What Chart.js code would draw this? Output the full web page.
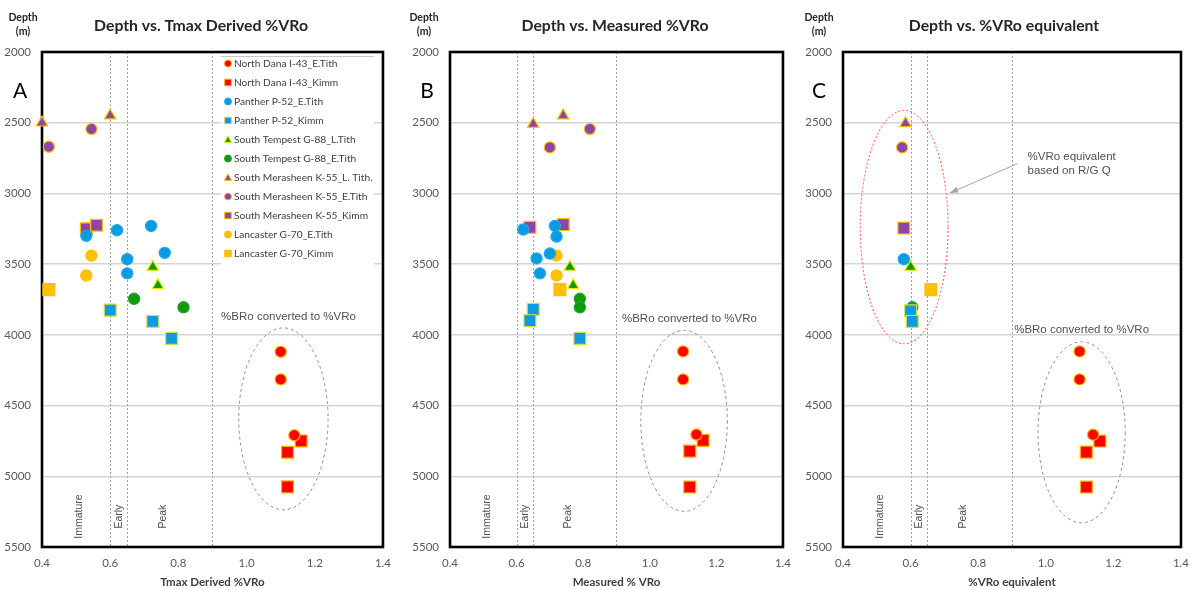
<!DOCTYPE html>
<html>
<head>
<meta charset="utf-8">
<script src="https://cdn.jsdelivr.net/npm/chart.js@4.4.0/dist/chart.umd.min.js"></script>
<style>
  body { margin: 0; background: #fff; }
  #wrap { position: relative; width: 1198px; height: 590px; }
  canvas { position: absolute; top: 0; }
</style>
</head>
<body>
<div id="wrap">
  <canvas id="chartA" width="400" height="590" style="left:0"></canvas>
  <canvas id="chartB" width="400" height="590" style="left:400px"></canvas>
  <canvas id="chartC" width="398" height="590" style="left:800px"></canvas>
</div>
<script>
// Series (well + interval)
const seriesNames = [
  'North Dana I-43_E.Tith', 'North Dana I-43_Kimm',
  'Panther P-52_E.Tith', 'Panther P-52_Kimm',
  'South Tempest G-88_L.Tith', 'South Tempest G-88_E.Tith',
  'South Merasheen K-55_L. Tith.', 'South Merasheen K-55_E.Tith', 'South Merasheen K-55_Kimm',
  'Lancaster G-70_E.Tith', 'Lancaster G-70_Kimm'
];
const seriesShape = ['circle', 'rect', 'circle', 'rect', 'triangle', 'circle', 'triangle', 'circle', 'rect', 'circle', 'rect'];
const seriesFill = ['#ff0000', '#ff0000', '#0a9be0', '#0a9be0', '#109a10', '#109a10', '#8e44ad', '#8e44ad', '#8e44ad', '#ffc000', '#ffc000'];
const seriesEdge = ['#ffb000', '#ffb000', '#22a8e8', '#d8dc40', '#f0e800', '#2aa02a', '#ffc000', '#ffc000', '#ffc000', '#ffc000', '#ffc000'];

// A: Tmax derived %VRo
const tmaxVRo = [
  [1.10, 1.10, 1.14], [1.16, 1.12, 1.12],
  [0.53, 0.62, 0.72, 0.76, 0.65, 0.65], [0.60, 0.725, 0.78],
  [0.725, 0.74], [0.67, 0.815],
  [0.40, 0.60], [0.545, 0.42], [0.53, 0.56],
  [0.545, 0.53], [0.42]
];
const tmaxDepth = [
  [4120, 4315, 4710], [4750, 4830, 5075],
  [3300, 3260, 3230, 3420, 3465, 3565], [3825, 3905, 4025],
  [3520, 3650], [3745, 3805],
  [2500, 2450], [2545, 2670], [3250, 3225],
  [3440, 3580], [3680]
];

// B: measured %VRo
const measVRo = [
  [1.10, 1.10, 1.14], [1.16, 1.12, 1.12],
  [0.62, 0.715, 0.72, 0.70, 0.66, 0.67], [0.65, 0.64, 0.79],
  [0.76, 0.77], [0.79, 0.79],
  [0.65, 0.74], [0.82, 0.70], [0.64, 0.74],
  [0.72, 0.72], [0.73]
];
const measDepth = [
  [4117, 4315, 4705], [4746, 4822, 5076],
  [3255, 3230, 3305, 3425, 3460, 3565], [3820, 3900, 4025],
  [3520, 3650], [3745, 3805],
  [2510, 2450], [2545, 2675], [3240, 3220],
  [3440, 3580], [3680]
];

// C: %VRo equivalent
const equivVRo = [
  [1.10, 1.10, 1.14], [1.16, 1.12, 1.12],
  [0.58], [0.60, 0.605],
  [0.60], [0.605],
  [0.585], [0.575], [0.58],
  [], [0.66]
];
const equivDepth = [
  [4117, 4315, 4706], [4751, 4829, 5076],
  [3465], [3830, 3905],
  [3520], [3805],
  [2505], [2675], [3245],
  [], [3680]
];

// maturity windows
const stageBounds = [0.6, 0.65, 0.9];
const stageNames = ['Immature', 'Early', 'Peak'];
const stageNameX = [0.51, 0.625, 0.755];
const stageNameDepth = 5285;

const vroRange = [0.4, 1.4];
const depthRange = [2000, 5500];

const shapeRadius = { circle: 5.6, rect: 8.4, triangle: 6.6 };
const LATO = 'Lato, "Open Sans", sans-serif';
const ARIAL = '"Liberation Sans", Arial, sans-serif';

function buildDatasets(xs, ys) {
  return seriesNames.map((name, i) => ({
    label: name,
    data: xs[i].map((x, j) => ({ x: x, y: ys[i][j] })),
    pointStyle: seriesShape[i],
    pointRadius: shapeRadius[seriesShape[i]],
    pointHoverRadius: shapeRadius[seriesShape[i]],
    backgroundColor: seriesFill[i],
    borderColor: seriesEdge[i],
    borderWidth: 1.2,
    showLine: false,
    clip: false
  }));
}

function marker(ctx, shape, x, y, r, fill, edge) {
  ctx.save();
  ctx.fillStyle = fill;
  ctx.strokeStyle = edge;
  ctx.lineWidth = 1;
  ctx.beginPath();
  if (shape === 'circle') {
    ctx.arc(x, y, r, 0, Math.PI * 2);
  } else if (shape === 'rect') {
    ctx.rect(x - r, y - r, 2 * r, 2 * r);
  } else {
    ctx.moveTo(x, y - r);
    ctx.lineTo(x + r, y + r * 0.8);
    ctx.lineTo(x - r, y + r * 0.8);
    ctx.closePath();
  }
  ctx.fill();
  ctx.stroke();
  ctx.restore();
}

const panelDecor = {
  id: 'panelDecor',
  beforeDatasetsDraw(chart, args, o) {
    const { ctx, chartArea: ca, scales: { x, y } } = chart;
    ctx.save();
    // maturity window boundaries
    ctx.strokeStyle = '#a0a0a0';
    ctx.lineWidth = 1;
    ctx.setLineDash([2, 2]);
    stageBounds.forEach(v => {
      const px = Math.round(x.getPixelForValue(v)) + 0.5;
      ctx.beginPath();
      ctx.moveTo(px, ca.top);
      ctx.lineTo(px, ca.bottom);
      ctx.stroke();
    });
    ctx.setLineDash([]);
    ctx.fillStyle = '#505050';
    ctx.font = '10.5px ' + ARIAL;
    ctx.textAlign = 'center';
    ctx.textBaseline = 'middle';
    stageNames.forEach((s, i) => {
      ctx.save();
      ctx.translate(x.getPixelForValue(stageNameX[i]), y.getPixelForValue(stageNameDepth));
      ctx.rotate(-Math.PI / 2);
      ctx.fillText(s, 0, 0);
      ctx.restore();
    });

    // grouping ellipses
    (o.ellipses || []).forEach(e => {
      const cx = x.getPixelForValue(e.cx), cy = y.getPixelForValue(e.cy);
      const rx = Math.abs(x.getPixelForValue(e.cx + e.rx) - cx);
      const ry = Math.abs(y.getPixelForValue(e.cy + e.ry) - cy);
      ctx.strokeStyle = e.color;
      ctx.lineWidth = 1;
      ctx.setLineDash(e.dash);
      ctx.beginPath();
      ctx.ellipse(cx, cy, rx, ry, 0, 0, Math.PI * 2);
      ctx.stroke();
    });
    ctx.setLineDash([]);

    // notes
    ctx.fillStyle = '#505050';
    ctx.font = '11.5px ' + ARIAL;
    (o.notes || []).forEach(n => {
      ctx.textAlign = n.align || 'center';
      ctx.fillText(n.text, x.getPixelForValue(n.x), y.getPixelForValue(n.y));
    });

    // callout arrow
    if (o.arrow) {
      const x0 = x.getPixelForValue(o.arrow.from[0]), y0 = y.getPixelForValue(o.arrow.from[1]);
      const x1 = x.getPixelForValue(o.arrow.to[0]), y1 = y.getPixelForValue(o.arrow.to[1]);
      const a = Math.atan2(y1 - y0, x1 - x0);
      ctx.strokeStyle = '#a6a6a6';
      ctx.fillStyle = '#a6a6a6';
      ctx.lineWidth = 1;
      ctx.beginPath();
      ctx.moveTo(x0, y0);
      ctx.lineTo(x1, y1);
      ctx.stroke();
      ctx.beginPath();
      ctx.moveTo(x1, y1);
      ctx.lineTo(x1 - 9 * Math.cos(a - 0.35), y1 - 9 * Math.sin(a - 0.35));
      ctx.lineTo(x1 - 9 * Math.cos(a + 0.35), y1 - 9 * Math.sin(a + 0.35));
      ctx.closePath();
      ctx.fill();
    }

    // legend box inside the plot
    if (o.legend) {
      const right = ca.right - 9, left = right - 153, top = ca.top + 4;
      const rowH = 19;
      ctx.fillStyle = '#fff';
      ctx.fillRect(left, top, right - left, rowH * seriesNames.length + 4);
      ctx.strokeStyle = '#c8c8c8';
      ctx.beginPath();
      ctx.moveTo(left, top + 0.5);
      ctx.lineTo(right, top + 0.5);
      ctx.stroke();
      ctx.font = '10.2px ' + LATO;
      ctx.textAlign = 'left';
      ctx.textBaseline = 'middle';
      chart.data.datasets.forEach((ds, i) => {
        const cy = top + 7.5 + i * rowH;
        const r = ds.pointStyle === 'rect' ? 3.3 : (ds.pointStyle === 'triangle' ? 3.6 : 3.5);
        marker(ctx, ds.pointStyle, left + 7, cy, r, ds.backgroundColor, ds.borderColor);
        ctx.fillStyle = '#404040';
        ctx.fillText(ds.label, left + 13, cy + 0.5);
      });
    }

    // plot frame, under the markers
    ctx.strokeStyle = '#000';
    ctx.lineWidth = 2.6;
    ctx.strokeRect(ca.left, ca.top, ca.right - ca.left, ca.bottom - ca.top);
    ctx.restore();
  },
  afterDraw(chart, args, o) {
    const { ctx } = chart;
    ctx.save();
    ctx.textAlign = 'center';
    ctx.textBaseline = 'middle';
    ctx.fillStyle = '#262626';
    ctx.font = 'bold 15.8px ' + LATO;
    ctx.fillText(o.title, o.titleX, 26);
    ctx.font = 'bold 10.5px ' + LATO;
    ctx.fillText('Depth', o.depthX, 18);
    ctx.fillText('(m)', o.depthX, 32);
    ctx.fillStyle = '#000';
    ctx.font = '21px ' + LATO;
    ctx.fillText(o.letter, o.letterX, 91);
    ctx.restore();
  }
};

function makePanel(id, xs, ys, axisTitle, yWidth, padRight, decor) {
  new Chart(document.getElementById(id), {
    type: 'scatter',
    data: { datasets: buildDatasets(xs, ys) },
    plugins: [panelDecor],
    options: {
      responsive: false,
      animation: false,
      layout: { padding: { top: 52, right: padRight, bottom: 0, left: 0 } },
      scales: {
        x: {
          type: 'linear',
          min: vroRange[0],
          max: vroRange[1],
          grid: { display: false, drawTicks: false },
          border: { display: false },
          ticks: {
            stepSize: 0.2,
            padding: 9,
            color: '#595959',
            font: { family: LATO, size: 11.5 },
            callback: v => Number(v).toFixed(1)
          },
          title: {
            display: true,
            text: axisTitle,
            color: '#404040',
            font: { family: LATO, size: 11.5, weight: 'bold' },
            padding: { top: 0, bottom: 1 }
          },
          afterFit: s => { s.height = 43; }
        },
        y: {
          type: 'linear',
          reverse: true,
          min: depthRange[0],
          max: depthRange[1],
          grid: { color: '#d4d4d4', lineWidth: 1.5, drawTicks: false },
          border: { display: false },
          ticks: {
            stepSize: 500,
            padding: 11,
            color: '#595959',
            font: { family: LATO, size: 11.5 },
            callback: v => String(v)
          },
          afterFit: s => { s.width = yWidth; }
        }
      },
      plugins: {
        legend: { display: false },
        tooltip: { enabled: false },
        panelDecor: decor
      }
    }
  });
}

makePanel('chartA', tmaxVRo, tmaxDepth, 'Tmax Derived %VRo', 42, 14, {
  title: 'Depth vs. Tmax Derived %VRo', titleX: 201, letter: 'A', letterX: 20, depthX: 23,
  legend: true,
  ellipses: [{ cx: 1.108, cy: 4594, rx: 0.131, ry: 643, color: '#8c8c8c', dash: [3, 3] }],
  notes: [{ text: '%BRo converted to %VRo', x: 1.123, y: 3876 }]
});

makePanel('chartB', measVRo, measDepth, 'Measured % VRo', 50, 14, {
  title: 'Depth vs. Measured %VRo', titleX: 215, letter: 'B', letterX: 27, depthX: 24,
  ellipses: [{ cx: 1.103, cy: 4608, rx: 0.130, ry: 640, color: '#8c8c8c', dash: [3, 3] }],
  notes: [{ text: '%BRo converted to %VRo', x: 1.119, y: 3890 }]
});

makePanel('chartC', equivVRo, equivDepth, '%VRo equivalent', 43, 12, {
  title: 'Depth vs. %VRo equivalent', titleX: 204, letter: 'C', letterX: 19, depthX: 19,
  ellipses: [
    { cx: 1.106, cy: 4689, rx: 0.129, ry: 640, color: '#8c8c8c', dash: [3, 3] },
    { cx: 0.581, cy: 3238, rx: 0.130, ry: 825, color: '#ff4a4a', dash: [2, 2] }
  ],
  notes: [
    { text: '%BRo converted to %VRo', x: 1.106, y: 3961 },
    { text: '%VRo equivalent', x: 0.946, y: 2738, align: 'left' },
    { text: 'based on R/G Q', x: 0.946, y: 2842, align: 'left' }
  ],
  arrow: { from: [0.916, 2789], to: [0.716, 2997] }
});
</script>
</body>
</html>
